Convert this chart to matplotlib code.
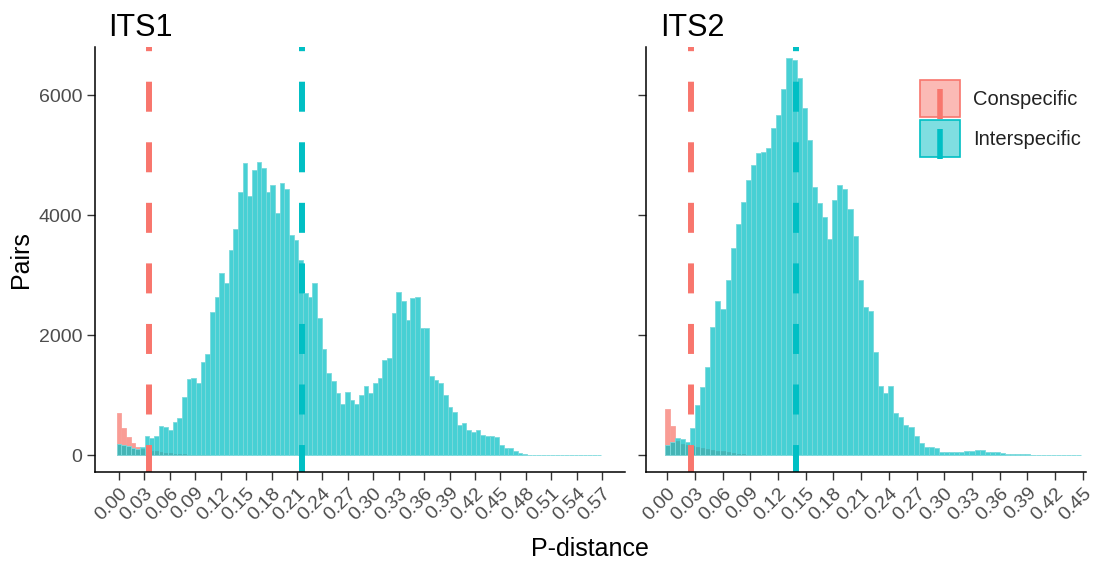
import numpy as np
import matplotlib
matplotlib.use('Agg')
import matplotlib.pyplot as plt
from matplotlib.patches import Rectangle
from matplotlib.lines import Line2D
from matplotlib.legend_handler import HandlerBase
from matplotlib.colors import to_rgba

plt.rcParams['font.family'] = ['Liberation Sans', 'DejaVu Sans']
plt.rcParams['lines.scale_dashes'] = False

# ---------------- data ----------------
BIN_WIDTH = 0.0055
groups = ['Conspecific', 'Interspecific']

its1_interspecific = [
    180, 175, 150, 120, 100, 130, 320, 280, 310, 480,
    460, 420, 550, 610, 960, 1260, 1290, 1200, 1550, 1680,
    2380, 2630, 3030, 2860, 3420, 3770, 4380, 4860, 4310, 4750,
    4890, 4780, 4390, 4500, 4030, 4540, 4430, 3670, 3580, 3250,
    2700, 2640, 2870, 2280, 1770, 1370, 1240, 1030, 850, 1050,
    920, 850, 1000, 1150, 1040, 1200, 1280, 1580, 1610, 2360,
    2710, 2560, 2250, 2610, 2630, 2110, 2110, 1320, 1250, 1200,
    1000, 800, 720, 500, 530, 420, 390, 420, 330, 320,
    317, 300, 170, 110, 120, 65, 32, 12, 8, 6,
    5, 4, 3, 3, 2, 2, 2, 2, 1, 1,
    1, 1, 1, 1]
its1_conspecific = [
    700, 450, 300, 200, 130, 100, 85, 70, 60, 50,
    40, 32, 25, 18, 12, 8, 5, 3, 2, 1]

its2_interspecific = [
    170, 220, 280, 260, 210, 450, 830, 1130, 1470, 2130,
    2560, 2430, 2920, 3450, 3850, 4220, 4580, 4830, 5030, 5050,
    5110, 5450, 5660, 6100, 6610, 6580, 6280, 5780, 5250, 4470,
    4200, 3970, 3600, 4250, 4500, 4430, 4100, 3650, 2920, 2470,
    2400, 1720, 1150, 1040, 1150, 700, 640, 500, 470, 310,
    200, 130, 130, 110, 55, 55, 45, 55, 55, 60,
    60, 90, 80, 55, 55, 45, 40, 15, 12, 10,
    10, 10, 8, 8, 8, 8, 6, 6, 6, 6, 6, 6]
its2_conspecific = [
    770, 480, 230, 180, 160, 150, 135, 120, 105, 90,
    75, 60, 48, 36, 25, 15, 8, 4, 2]

its1_thresholds = [0.0354, 0.216]   # Conspecific, Interspecific
its2_thresholds = [0.026, 0.140]

its1_xticks = [0.00, 0.03, 0.06, 0.09, 0.12, 0.15, 0.18, 0.21, 0.24, 0.27,
               0.30, 0.33, 0.36, 0.39, 0.42, 0.45, 0.48, 0.51, 0.54, 0.57]
its2_xticks = [0.00, 0.03, 0.06, 0.09, 0.12, 0.15, 0.18, 0.21, 0.24, 0.27,
               0.30, 0.33, 0.36, 0.39, 0.42, 0.45]
yticks = [0, 2000, 4000, 6000]

# ---------------- style ----------------
RED = '#F8766D'
TEAL = '#00BFC4'
RED_EDGE = '#F9A39C'
TEAL_EDGE = '#7CD9DC'
COLORS = [RED, TEAL]
W, H = 1096, 563

fig = plt.figure(figsize=(W / 100, H / 100), dpi=100)
ax1 = fig.add_axes([95 / W, 1 - 472 / H, 530 / W, 425 / H])
ax2 = fig.add_axes([646 / W, 1 - 472 / H, 440 / W, 425 / H])


def panel(ax, con, inter, thresholds, xticks, xlim, show_ylabels):
    for vals, col, edge in [(con, RED, RED_EDGE), (inter, TEAL, TEAL_EDGE)]:
        centers = np.arange(len(vals)) * BIN_WIDTH
        ax.bar(centers, vals, width=BIN_WIDTH, align='center',
               facecolor=to_rgba(col, 0.72), edgecolor=edge, linewidth=0.6)
    for x, col in zip(thresholds, COLORS):
        ax.axvline(x, color=col, linewidth=4.3, linestyle=(2.2, (21.6, 22.0)),
                   dash_capstyle='butt')
    ax.set_xlim(*xlim)
    ax.set_ylim(-283, 6800)
    ax.set_xticks(xticks)
    ax.set_xticklabels([f'{t:.2f}' for t in xticks], rotation=45,
                       ha='right', va='top', rotation_mode='anchor')
    ax.set_yticks(yticks)
    ax.set_yticklabels([str(t) for t in yticks])
    for s in ['top', 'right']:
        ax.spines[s].set_visible(False)
    for s in ['left', 'bottom']:
        ax.spines[s].set_color('black')
        ax.spines[s].set_linewidth(1.1)
    ax.tick_params(axis='both', direction='out', length=5.5, width=1.0,
                   color='#333333', labelsize=14, labelcolor='#4D4D4D', pad=3.5)
    if not show_ylabels:
        ax.tick_params(axis='y', labelleft=False)


panel(ax1, its1_conspecific, its1_interspecific, its1_thresholds,
      its1_xticks, (-0.0283, 0.597), True)
panel(ax2, its2_conspecific, its2_interspecific, its2_thresholds,
      its2_xticks, (-0.0228, 0.4534), False)

ax1.set_ylabel('Pairs', fontsize=18, color='black')
ax1.yaxis.set_label_coords((33 - 95) / 530, 0.5)
fig.text(590 / W, 1 - 549 / H, 'P-distance', ha='center', va='center',
         fontsize=18, color='black')

fig.text(108 / W, 1 - 36 / H, 'ITS1', fontsize=22, va='baseline', ha='left')
fig.text(660 / W, 1 - 36 / H, 'ITS2', fontsize=22, va='baseline', ha='left')


class KeyHandler(HandlerBase):
    def create_artists(self, legend, orig_handle, xdescent, ydescent,
                       width, height, fontsize, trans):
        c = orig_handle.get_color()
        x0, y0 = -xdescent, -ydescent
        rect = Rectangle((x0, y0), width, height, facecolor=to_rgba(c, 0.5),
                         edgecolor=c, linewidth=1.2, transform=trans)
        line = Line2D([x0 + width / 2] * 2, [y0 - 0.05 * height, y0 + 0.75 * height],
                      color=c, linewidth=4, solid_capstyle='butt', transform=trans)
        return [rect, line]


handles = [Line2D([], [], color=c) for c in COLORS]
fs = 14.5
fig.legend(handles, groups, loc='upper left',
           bbox_to_anchor=(920 / W, 1 - 80 / H), frameon=False, fontsize=fs,
           handlelength=2.0, handleheight=2.45, labelspacing=0.15,
           handletextpad=0.65, borderpad=0, borderaxespad=0,
           handler_map={Line2D: KeyHandler()}, labelcolor='#222222')

fig.savefig('out.png', dpi=100)
